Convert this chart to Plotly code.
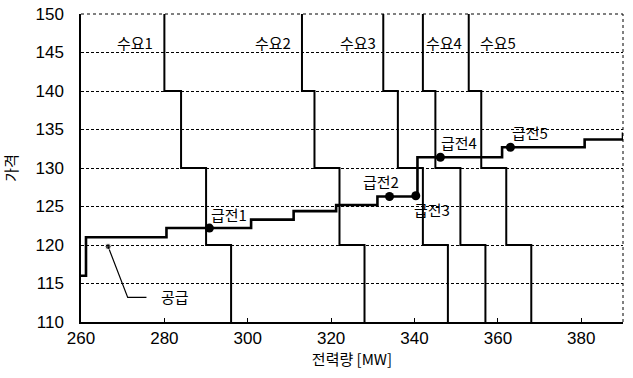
import plotly.graph_objects as go

# Demand curves (step-down), common price levels
demand_price = [150, 140, 140, 130, 130, 120, 120, 110]
demand1_x = [280, 280, 284, 284, 290, 290, 296, 296]
demand2_x = [313, 313, 316, 316, 322, 322, 328, 328]
demand3_x = [332.5, 332.5, 336, 336, 342, 342, 348, 348]
demand4_x = [342, 342, 345, 345, 351, 351, 357, 357]
demand5_x = [353, 353, 356, 356, 362, 362, 368, 368]
demand_labels = ["수요1", "수요2", "수요3", "수요4", "수요5"]
demand_label_x = [273, 306, 326.5, 347, 360]
demand_label_y = 146.3

# Supply curve (step-up)
supply_x = [260, 261.2, 261.2, 280.5, 280.5, 300.8, 300.8, 311, 311, 321.2, 321.2,
            331.1, 331.1, 340.7, 340.7, 361, 361, 380.8, 380.8, 390, 390]
supply_y = [116, 116, 121, 121, 122.2, 122.2, 123.3, 123.3, 124.4, 124.4, 125.2,
            125.2, 126.3, 126.3, 131.4, 131.4, 132.7, 132.7, 133.7, 133.7, 134.6]

# Dispatch points
dispatch_labels = ["급전1", "급전2", "급전3", "급전4", "급전5"]
dispatch_x = [290.8, 334, 340.3, 346.2, 363]
dispatch_y = [122.2, 126.3, 126.4, 131.4, 132.7]
dispatch_label_x = [295.6, 331.9, 344.3, 350.7, 367.6]
dispatch_label_y = [123.9, 128.3, 124.6, 133.3, 134.6]

# Supply pointer
pointer_x = [266.5, 271.2, 275.7]
pointer_y = [119.8, 113.2, 113.2]
pointer_label = "공급"
pointer_label_xy = (282.5, 113.3)

x_ticks = [260, 280, 300, 320, 340, 360, 380]
y_ticks = [110, 115, 120, 125, 130, 135, 140, 145, 150]

KFONT = "Noto Sans CJK KR"
NFONT = "Liberation Sans"

fig = go.Figure()

for dx in [demand1_x, demand2_x, demand3_x, demand4_x, demand5_x]:
    fig.add_trace(go.Scatter(x=dx, y=demand_price, mode="lines",
                             line=dict(color="black", width=2), showlegend=False,
                             hoverinfo="skip"))

fig.add_trace(go.Scatter(x=supply_x, y=supply_y, mode="lines",
                         line=dict(color="black", width=2.6), showlegend=False))

fig.add_trace(go.Scatter(x=pointer_x, y=pointer_y, mode="lines+markers",
                         line=dict(color="black", width=1.2),
                         marker=dict(size=[6, 0, 0], color="black"),
                         showlegend=False))

fig.add_trace(go.Scatter(x=dispatch_x, y=dispatch_y, mode="markers",
                         marker=dict(size=9, color="black"), showlegend=False))

for lab, lx in zip(demand_labels, demand_label_x):
    fig.add_annotation(x=lx, y=demand_label_y, text=lab, showarrow=False,
                       font=dict(family=KFONT, size=15, color="black"))

for lab, lx, ly in zip(dispatch_labels, dispatch_label_x, dispatch_label_y):
    fig.add_annotation(x=lx, y=ly, text=lab, showarrow=False,
                       font=dict(family=KFONT, size=15, color="black"))

fig.add_annotation(x=pointer_label_xy[0], y=pointer_label_xy[1], text=pointer_label,
                   showarrow=False, font=dict(family=KFONT, size=15, color="black"))

# dotted top and right border
fig.add_shape(type="line", xref="paper", yref="paper", x0=1, x1=1, y0=0, y1=1,
              line=dict(color="black", width=1, dash="dot"))
fig.add_shape(type="line", xref="paper", yref="paper", x0=0, x1=1, y0=1, y1=1,
              line=dict(color="black", width=1, dash="dot"))

fig.update_layout(
    width=633, height=378,
    margin=dict(l=81, r=10, t=14, b=56),
    plot_bgcolor="white", paper_bgcolor="white",
    font=dict(family=NFONT, size=17, color="black"),
)
fig.update_xaxes(range=[260, 390], tickvals=x_ticks, showgrid=False, zeroline=False,
                 showline=True, linecolor="black", linewidth=1.5,
                 ticks="inside", ticklen=4, tickcolor="black",
                 tickfont=dict(family=NFONT, size=17), automargin=False,
                 title=dict(text="전력량 [MW]", font=dict(family=KFONT, size=15),
                            standoff=2))
fig.update_yaxes(range=[110, 150], tickvals=y_ticks, showgrid=True,
                 gridcolor="black", gridwidth=1, griddash="3px,2px", zeroline=False,
                 showline=True, linecolor="black", linewidth=1.5,
                 ticks="", ticklabelstandoff=12, automargin=False,
                 tickfont=dict(family=NFONT, size=17),
                 title=dict(text="가격", font=dict(family=KFONT, size=15), standoff=14))

fig.write_html("out.html", config={"displayModeBar": False},
               post_script="document.body.style.margin='0';document.body.style.padding='0';")
